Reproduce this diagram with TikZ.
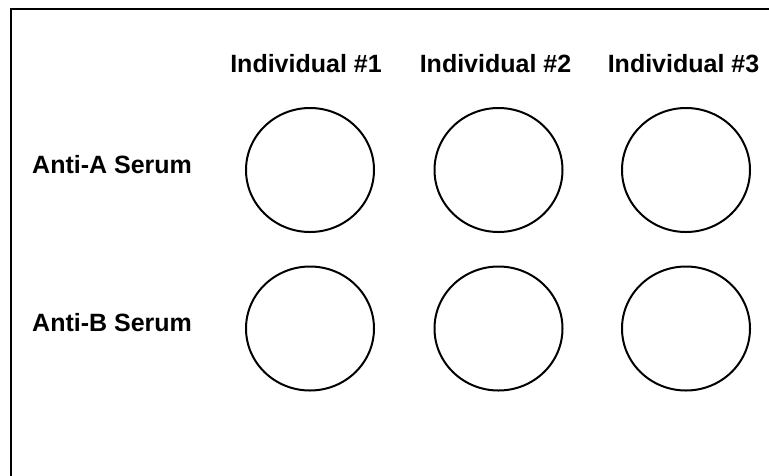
\documentclass[tikz,border=0pt]{standalone}
\usepackage{fontspec}
\setmainfont{Liberation Sans}
\usepackage{tikz}
\usetikzlibrary{shapes.geometric, positioning}

\tikzset{
    well/.style={ellipse, draw=black, line width=2pt, minimum width=128pt, minimum height=124pt, inner sep=0pt},
    heading/.style={font=\fontsize{25}{30}\selectfont\bfseries, inner sep=0pt}
}

\begin{document}
\begin{tikzpicture}[x=1pt, y=-1pt]
    % Page
    \useasboundingbox (0,0) rectangle (769,475);
    \clip (0,0) rectangle (769,475);
    \draw[line width=2.5pt] (780,9) -- (11,9) -- (11,490);

    % Wells
    \foreach \c/\x in {1/310, 2/498.5, 3/686} {
        \node[well] (a\c) at (\x, 170) {};
        \node[well] (b\c) at (\x, 328.5) {};
    }

    % Column labels
    \node[heading, anchor=base] (ind1) at (306, 72) {Individual \#1};
    \node[heading, anchor=base] (ind2) at (495.5, 72) {Individual \#2};
    \node[heading, anchor=base] (ind3) at (683.5, 72) {Individual \#3};

    % Row labels
    \node[heading, anchor=base west] (antiA) at (32, 173) {Anti-A Serum};
    \node[heading, anchor=base west] (antiB) at (32, 331) {Anti-B Serum};
\end{tikzpicture}
\end{document}
